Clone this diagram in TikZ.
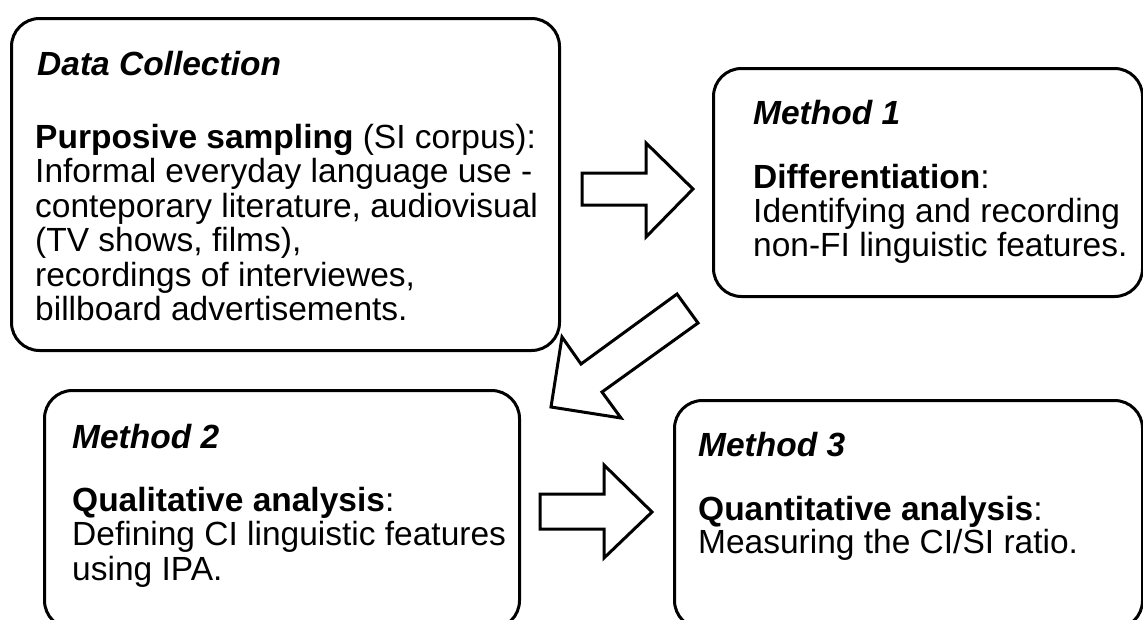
\documentclass[tikz,border=0pt]{standalone}
\usepackage{fontspec}
\setmainfont{Liberation Sans}
\begin{document}
\begin{tikzpicture}[x=1pt,y=-1pt,
  box/.style={draw=black,line width=3pt,rounded corners=28pt,anchor=north west,inner sep=0pt},
  blockarrow/.style={draw=black,line width=3pt,fill=white,line join=miter},
  txt/.style={anchor=base west,inner sep=0pt,font=\fontsize{33.5}{35}\selectfont},
  ttl/.style={txt,font=\fontsize{33.5}{35}\selectfont\bfseries\itshape}]
\clip (0,0) rectangle (1143,619);
% boxes
\node[box,minimum width=548pt,minimum height=332pt] (dc) at (10,17) {};
\node[box,minimum width=429pt,minimum height=228pt] (m1) at (712,67) {};
\node[box,minimum width=475pt,minimum height=238pt] (m2) at (43,389) {};
\node[box,minimum width=468pt,minimum height=228pt] (m3) at (673,399) {};
% texts
\node[ttl] (dct) at (37,75) {Data Collection};
\node[txt] (dc1) at (35,148) {\textbf{Purposive sampling} (SI corpus):};
\node[txt] (dc2) at (35,182.5) {Informal everyday language use -};
\node[txt] (dc3) at (35,217) {conteporary literature, audiovisual};
\node[txt] (dc4) at (35,251.5) {(TV shows, films),};
\node[txt] (dc5) at (35,286) {recordings of interviewes,};
\node[txt] (dc6) at (35,320.5) {billboard advertisements.};
\node[ttl] (m1t) at (753,124) {Method 1};
\node[txt] (m1a) at (753,188) {\textbf{Differentiation}:};
\node[txt] (m1b) at (753,222.5) {Identifying and recording};
\node[txt] (m1c) at (753,256.5) {non-FI linguistic features.};
\node[ttl] (m2t) at (72,448) {Method 2};
\node[txt] (m2a) at (72,511) {\textbf{Qualitative analysis}:};
\node[txt] (m2b) at (72,545) {Defining CI linguistic features};
\node[txt] (m2c) at (72,580) {using IPA.};
\node[ttl] (m3t) at (698,456) {Method 3};
\node[txt] (m3a) at (698,520) {\textbf{Quantitative analysis}:};
\node[txt] (m3b) at (698,553.5) {Measuring the CI/SI ratio.};
% block arrows
\draw[blockarrow] (582,173) -- (646,173) -- (646,143) -- (693,189) -- (646,237) -- (646,205) -- (582,205) -- cycle;
\draw[blockarrow] (677,294) -- (698,323) -- (602,392) -- (621,418) -- (551,407) -- (562,337) -- (581,364) -- cycle;
\draw[blockarrow] (540,494) -- (604,494) -- (604,465) -- (652,512) -- (604,558) -- (604,529) -- (540,529) -- cycle;
\end{tikzpicture}
\end{document}
